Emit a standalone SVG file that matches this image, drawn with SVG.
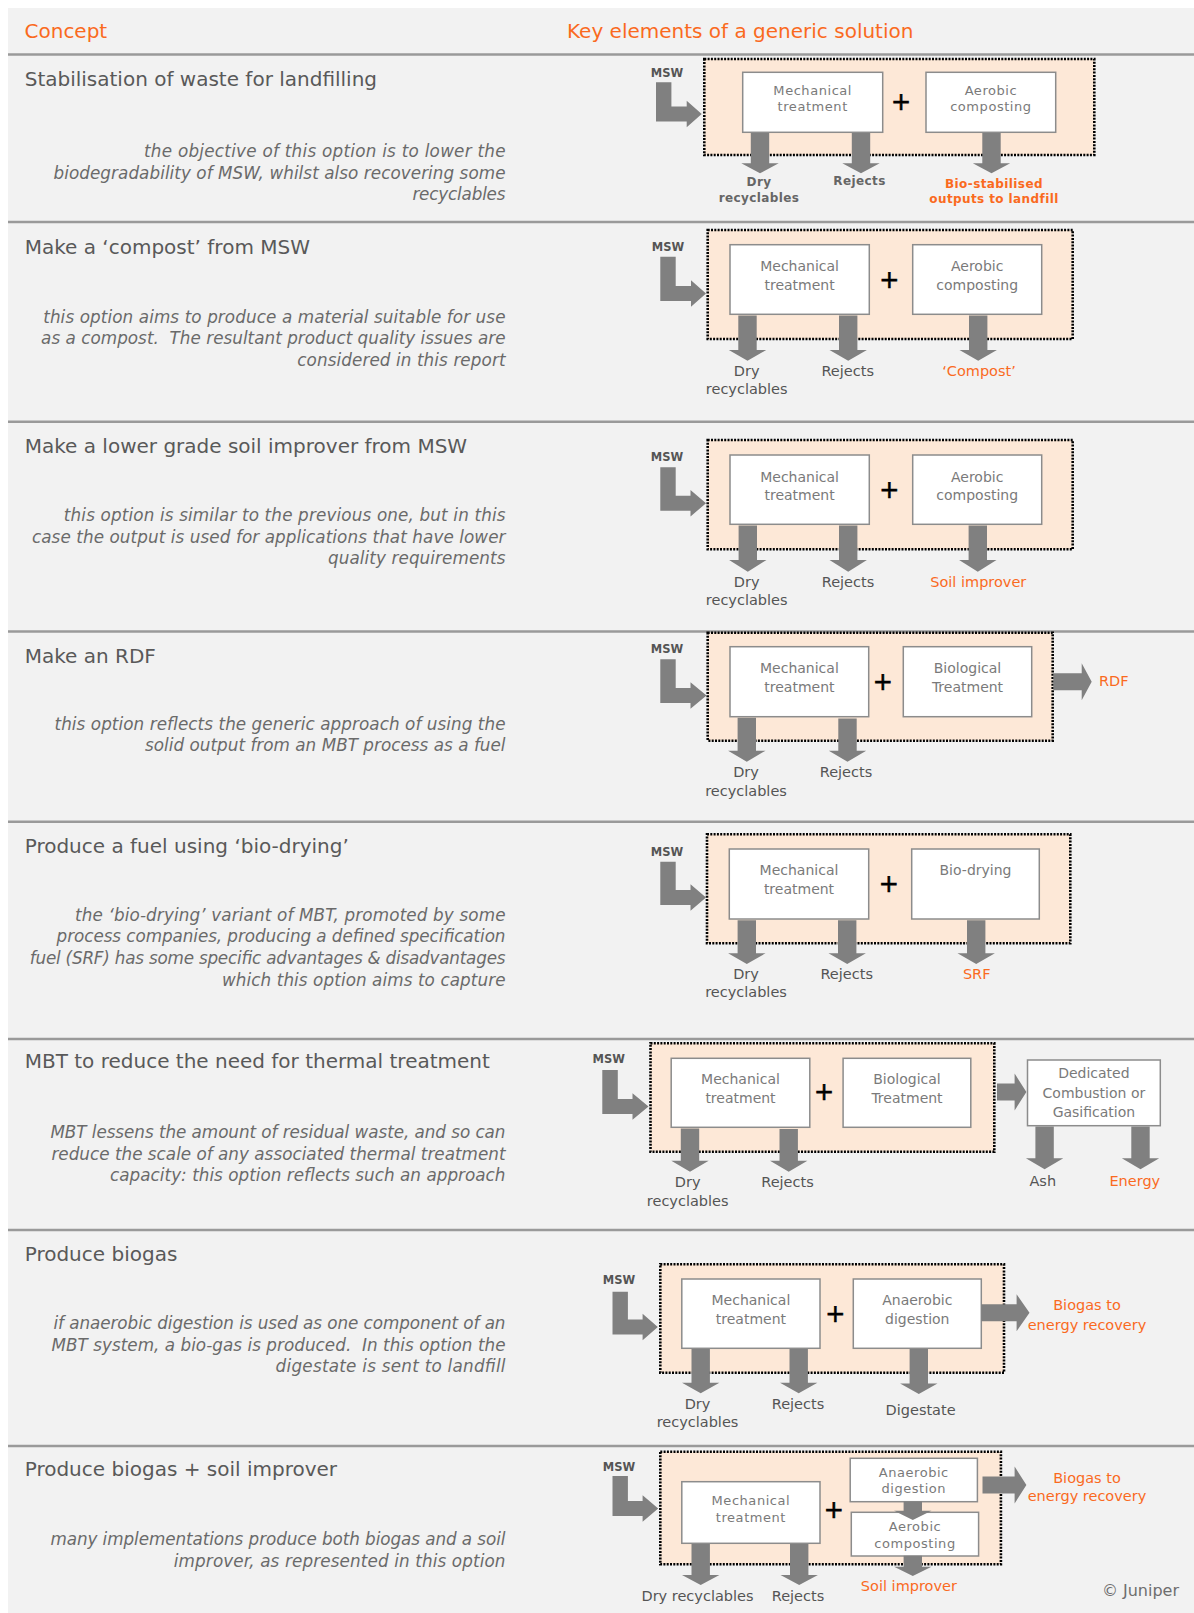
<svg xmlns="http://www.w3.org/2000/svg" width="1194" height="1613" viewBox="0 0 1194 1613">
  <style>
    text { font-family: "DejaVu Sans", "Liberation Sans", sans-serif; }
    .panel { fill: #f2f2f2; }
    .sep { stroke: #9a9a9a; stroke-width: 2.5; fill: none; }
    .hdr { font-size: 20px; fill: #fa6a1e; }
    .title { font-size: 20px; fill: #595959; }
    .desc { font-size: 16.8px; font-style: italic; fill: #6a6a6a; text-anchor: end; white-space: pre; }
    .grp { fill: #fde8d7; stroke: #000; stroke-width: 2.6; stroke-dasharray: 2 1.3; }
    .box { fill: #fff; stroke: #8c8c8c; stroke-width: 1.5; }
    .bt { font-size: 14px; fill: #7a7a7a; text-anchor: middle; }
    .bts { font-size: 13px; fill: #7a7a7a; text-anchor: middle; letter-spacing: 0.55px; }
    .plus { font-size: 24px; fill: #000; stroke: #000; stroke-width: 0.6; text-anchor: middle; }
    .msw { font-size: 11.5px; font-weight: bold; fill: #555; }
    .out { font-size: 14.5px; fill: #555; text-anchor: middle; }
    .outs { font-size: 12px; font-weight: bold; fill: #666; text-anchor: middle; letter-spacing: 0.4px; }
    .org { fill: #fa6a1e; }
    .arr { fill: #808080; }
    .copy { font-size: 16px; fill: #6e6e6e; text-anchor: end; }
  </style>

  <!-- background panel and table rules -->
  <rect class="panel" x="8" y="8" width="1186" height="1605"/>
  <g id="rules">
    <line class="sep" x1="8" y1="54.5" x2="1194" y2="54.5"/>
    <line class="sep" x1="8" y1="222" x2="1194" y2="222"/>
    <line class="sep" x1="8" y1="421.7" x2="1194" y2="421.7"/>
    <line class="sep" x1="8" y1="631.5" x2="1194" y2="631.5"/>
    <line class="sep" x1="8" y1="821.7" x2="1194" y2="821.7"/>
    <line class="sep" x1="8" y1="1039" x2="1194" y2="1039"/>
    <line class="sep" x1="8" y1="1230" x2="1194" y2="1230"/>
    <line class="sep" x1="8" y1="1446" x2="1194" y2="1446"/>
  </g>

  <!-- column headings -->
  <g id="headings">
    <text class="hdr" x="24.5" y="37.5">Concept</text>
    <text class="hdr" x="567" y="37.5">Key elements of a generic solution</text>
  </g>

  <!-- concept descriptions -->
  <g id="concepts">
    <text class="title" x="24.7" y="86">Stabilisation of waste for landfilling</text>
    <text class="desc" x="505.5" y="157" textLength="361.5" lengthAdjust="spacing">the objective of this option is to lower the</text>
    <text class="desc" x="505.5" y="178.5" textLength="452" lengthAdjust="spacing">biodegradability of MSW, whilst also recovering some</text>
    <text class="desc" x="505.5" y="200" textLength="93.1" lengthAdjust="spacing">recyclables</text>

    <text class="title" x="24.7" y="253.5">Make a ‘compost’ from MSW</text>
    <text class="desc" x="505.5" y="322.5" textLength="462.3" lengthAdjust="spacing">this option aims to produce a material suitable for use</text>
    <text class="desc" x="505.5" y="344" textLength="464.4" lengthAdjust="spacing">as a compost.  The resultant product quality issues are</text>
    <text class="desc" x="505.5" y="365.5" textLength="208.3" lengthAdjust="spacing">considered in this report</text>

    <text class="title" x="24.7" y="452.8">Make a lower grade soil improver from MSW</text>
    <text class="desc" x="505.5" y="521" textLength="441.7" lengthAdjust="spacing">this option is similar to the previous one, but in this</text>
    <text class="desc" x="505.5" y="542.5" textLength="473.6" lengthAdjust="spacing">case the output is used for applications that have lower</text>
    <text class="desc" x="505.5" y="564" textLength="177.5" lengthAdjust="spacing">quality requirements</text>

    <text class="title" x="24.7" y="662.6">Make an RDF</text>
    <text class="desc" x="505.5" y="729.5" textLength="451" lengthAdjust="spacing">this option reflects the generic approach of using the</text>
    <text class="desc" x="505.5" y="751" textLength="360.5" lengthAdjust="spacing">solid output from an MBT process as a fuel</text>

    <text class="title" x="24.7" y="852.8">Produce a fuel using ‘bio-drying’</text>
    <text class="desc" x="505.5" y="920.8" textLength="430.5" lengthAdjust="spacing">the ‘bio-drying’ variant of MBT, promoted by some</text>
    <text class="desc" x="505.5" y="942.4" textLength="448.9" lengthAdjust="spacing">process companies, producing a defined specification</text>
    <text class="desc" x="505.5" y="964" textLength="475.7" lengthAdjust="spacing">fuel (SRF) has some specific advantages &amp; disadvantages</text>
    <text class="desc" x="505.5" y="985.6" textLength="283.5" lengthAdjust="spacing">which this option aims to capture</text>

    <text class="title" x="24.7" y="1068.3">MBT to reduce the need for thermal treatment</text>
    <text class="desc" x="505.5" y="1138" textLength="455.1" lengthAdjust="spacing">MBT lessens the amount of residual waste, and so can</text>
    <text class="desc" x="505.5" y="1159.5" textLength="454.1" lengthAdjust="spacing">reduce the scale of any associated thermal treatment</text>
    <text class="desc" x="505.5" y="1181" textLength="395.5" lengthAdjust="spacing">capacity: this option reflects such an approach</text>

    <text class="title" x="24.7" y="1261.1">Produce biogas</text>
    <text class="desc" x="505.5" y="1329" textLength="452" lengthAdjust="spacing">if anaerobic digestion is used as one component of an</text>
    <text class="desc" x="505.5" y="1350.7" textLength="454.1" lengthAdjust="spacing">MBT system, a bio-gas is produced.  In this option the</text>
    <text class="desc" x="505.5" y="1372.3" textLength="229.9" lengthAdjust="spacing">digestate is sent to landfill</text>

    <text class="title" x="24.7" y="1476.1">Produce biogas + soil improver</text>
    <text class="desc" x="505.5" y="1545" textLength="455.1" lengthAdjust="spacing">many implementations produce both biogas and a soil</text>
    <text class="desc" x="505.5" y="1566.6" textLength="331.7" lengthAdjust="spacing">improver, as represented in this option</text>
  </g>

  <!-- MBT containers (dotted outline) -->
  <g id="containers">
    <rect id="mbt1" class="grp" x="704.3" y="59" width="390" height="96"/>
    <rect id="mbt2" class="grp" x="707.7" y="230" width="365" height="109"/>
    <rect id="mbt3" class="grp" x="707.7" y="440" width="365" height="109.3"/>
    <rect id="mbt4" class="grp" x="707.7" y="632.7" width="345" height="108"/>
    <rect id="mbt5" class="grp" x="707" y="834.3" width="363.3" height="109"/>
    <rect id="mbt6" class="grp" x="650.5" y="1043.3" width="343.8" height="108.4"/>
    <rect id="mbt7" class="grp" x="660.3" y="1264.3" width="343.7" height="108.4"/>
    <rect id="mbt8" class="grp" x="660.3" y="1451.7" width="340.6" height="112.6"/>
  </g>

  <!-- process boxes -->
  <g id="s1-mech">
    <rect class="box" x="742.7" y="72.3" width="140" height="60"/>
    <text class="bts" x="812.7" y="95">Mechanical</text>
    <text class="bts" x="812.7" y="110.7">treatment</text>
  </g>
  <g id="s1-aerobic">
    <rect class="box" x="926" y="72.3" width="129.7" height="60"/>
    <text class="bts" x="990.9" y="95">Aerobic</text>
    <text class="bts" x="990.9" y="110.7">composting</text>
  </g>
  <text class="plus" x="901" y="109.5">+</text>

  <g id="s2-mech">
    <rect class="box" x="730" y="244.7" width="139.3" height="69.6"/>
    <text class="bt" x="799.6" y="271">Mechanical</text>
    <text class="bt" x="799.6" y="289.5">treatment</text>
  </g>
  <g id="s2-aerobic">
    <rect class="box" x="912.7" y="244.7" width="129" height="69.6"/>
    <text class="bt" x="977.2" y="271">Aerobic</text>
    <text class="bt" x="977.2" y="289.5">composting</text>
  </g>
  <text class="plus" x="889.3" y="287.8">+</text>

  <g id="s3-mech">
    <rect class="box" x="730" y="455" width="139.3" height="69.3"/>
    <text class="bt" x="799.6" y="481.5">Mechanical</text>
    <text class="bt" x="799.6" y="500">treatment</text>
  </g>
  <g id="s3-aerobic">
    <rect class="box" x="912.7" y="455" width="129" height="69.3"/>
    <text class="bt" x="977.2" y="481.5">Aerobic</text>
    <text class="bt" x="977.2" y="500">composting</text>
  </g>
  <text class="plus" x="889.3" y="497.5">+</text>

  <g id="s4-mech">
    <rect class="box" x="730" y="646.7" width="138.7" height="70"/>
    <text class="bt" x="799.4" y="673.3">Mechanical</text>
    <text class="bt" x="799.4" y="692.3">treatment</text>
  </g>
  <g id="s4-bio">
    <rect class="box" x="903.3" y="646.7" width="128.4" height="70"/>
    <text class="bt" x="967.5" y="673.3">Biological</text>
    <text class="bt" x="967.5" y="692.3">Treatment</text>
  </g>
  <text class="plus" x="882.7" y="689.5">+</text>

  <g id="s5-mech">
    <rect class="box" x="729.3" y="849" width="139.4" height="70"/>
    <text class="bt" x="799" y="875">Mechanical</text>
    <text class="bt" x="799" y="894">treatment</text>
  </g>
  <g id="s5-biodry">
    <rect class="box" x="911.7" y="849" width="127.6" height="70"/>
    <text class="bt" x="975.5" y="875">Bio-drying</text>
  </g>
  <text class="plus" x="888.7" y="891.8">+</text>

  <g id="s6-mech">
    <rect class="box" x="671.2" y="1058.3" width="138.6" height="69"/>
    <text class="bt" x="740.5" y="1084">Mechanical</text>
    <text class="bt" x="740.5" y="1103.3">treatment</text>
  </g>
  <g id="s6-bio">
    <rect class="box" x="843.1" y="1058.3" width="127.7" height="69"/>
    <text class="bt" x="907" y="1084">Biological</text>
    <text class="bt" x="907" y="1103.3">Treatment</text>
  </g>
  <text class="plus" x="824" y="1100.2">+</text>
  <g id="s6-thermal">
    <rect class="box" x="1027.5" y="1060" width="132.8" height="65.7"/>
    <text class="bt" x="1093.9" y="1078.3">Dedicated</text>
    <text class="bt" x="1093.9" y="1097.5">Combustion or</text>
    <text class="bt" x="1093.9" y="1117.3">Gasification</text>
  </g>

  <g id="s7-mech">
    <rect class="box" x="681.8" y="1279" width="138.2" height="69.3"/>
    <text class="bt" x="750.9" y="1305">Mechanical</text>
    <text class="bt" x="750.9" y="1324">treatment</text>
  </g>
  <g id="s7-ad">
    <rect class="box" x="853.3" y="1279" width="128" height="69.3"/>
    <text class="bt" x="917.3" y="1305">Anaerobic</text>
    <text class="bt" x="917.3" y="1324">digestion</text>
  </g>
  <text class="plus" x="835.3" y="1321.8">+</text>

  <g id="s8-mech">
    <rect class="box" x="681.8" y="1481.7" width="138.2" height="61.6"/>
    <text class="bts" x="750.9" y="1505">Mechanical</text>
    <text class="bts" x="750.9" y="1521.7">treatment</text>
  </g>
  <g id="s8-ad">
    <rect class="box" x="850.2" y="1458.3" width="127.2" height="43.4"/>
    <text class="bts" x="913.8" y="1476.7">Anaerobic</text>
    <text class="bts" x="913.8" y="1493.3">digestion</text>
  </g>
  <g id="s8-aerobic">
    <rect class="box" x="851.3" y="1512.3" width="127.3" height="43.7"/>
    <text class="bts" x="915" y="1530.7">Aerobic</text>
    <text class="bts" x="915" y="1548.3">composting</text>
  </g>
  <text class="plus" x="833.7" y="1517.5">+</text>

  <!-- flow arrows -->
  <g id="connectors" class="arr">
    <!-- MSW inputs -->
    <path d="M656,82.3 H671.4 V106.5 H686.7 V100.7 L701.7,114 L686.7,127.3 V121.5 H656 Z"/>
    <path d="M660.3,256.7 H675.7 V286 H691 V280.2 L706,293.5 L691,306.8 V301 H660.3 Z"/>
    <path d="M660.3,467.3 H675.7 V495.7 H690.5 V489.9 L706,503.2 L690.5,516.5 V510.7 H660.3 Z"/>
    <path d="M660.3,659.3 H675.7 V688 H690.5 V682.2 L706.5,695.5 L690.5,708.8 V703 H660.3 Z"/>
    <path d="M660.3,861.7 H675.7 V890 H690.5 V884.2 L706,897.5 L690.5,910.8 V905 H660.3 Z"/>
    <path d="M602.3,1070 H617.8 V1099 H632.5 V1093.2 L648.5,1106.5 L632.5,1119.8 V1114 H602.3 Z"/>
    <path d="M612.5,1291.7 H627.9 V1319.5 H642.6 V1313.7 L657.8,1327 L642.6,1340.3 V1334.5 H612.5 Z"/>
    <path d="M612.5,1476 H627.9 V1501 H642.6 V1495.2 L658.2,1508.5 L642.6,1521.8 V1516 H612.5 Z"/>

    <!-- outputs, section 1 -->
    <path d="M750.8,133 H769.2 V163.3 H778.7 L760,173.3 L741.3,163.3 H750.8 Z"/>
    <path d="M851.8,133 H870.2 V163.3 H879.7 L861,173.3 L842.3,163.3 H851.8 Z"/>
    <path d="M982.3,133 H1000.7 V163.3 H1010.2 L991.5,173.3 L972.8,163.3 H982.3 Z"/>
    <!-- section 2 -->
    <path d="M738.3,315.5 H756.7 V350 H766.2 L747.5,360.7 L728.8,350 H738.3 Z"/>
    <path d="M839,315.5 H857.4 V350 H866.9 L848.2,360.7 L829.5,350 H839 Z"/>
    <path d="M969,315.5 H987.4 V350 H996.9 L978.2,360.7 L959.5,350 H969 Z"/>
    <!-- section 3 -->
    <path d="M738.6,525.5 H757 V560 H766.5 L747.8,571.7 L729.1,560 H738.6 Z"/>
    <path d="M839,525.5 H857.4 V560 H866.9 L848.2,571.7 L829.5,560 H839 Z"/>
    <path d="M968.6,525.5 H987 V560 H996.5 L977.8,571.7 L959.1,560 H968.6 Z"/>
    <!-- section 4 -->
    <path d="M737.6,717.8 H756 V750.7 H765.5 L746.8,761.7 L728.1,750.7 H737.6 Z"/>
    <path d="M838.3,718.5 H856.7 V750.7 H866.2 L847.5,761.7 L828.8,750.7 H838.3 Z"/>
    <path d="M1053.3,673.2 H1081.7 V663.2 L1091.7,681.7 L1081.7,700.2 V690.2 H1053.3 Z"/>
    <!-- section 5 -->
    <path d="M737.6,920.3 H756 V953.3 H765.5 L746.8,964 L728.1,953.3 H737.6 Z"/>
    <path d="M838,920.3 H856.4 V953.3 H865.9 L847.2,964 L828.5,953.3 H838 Z"/>
    <path d="M967,920.3 H985.4 V953.3 H994.9 L976.2,964 L957.5,953.3 H967 Z"/>
    <!-- section 6 -->
    <path d="M680.8,1128.5 H699.2 V1160.7 H708.7 L690,1171.7 L671.3,1160.7 H680.8 Z"/>
    <path d="M779.5,1129 H797.9 V1160.7 H807.4 L788.7,1171.7 L770,1160.7 H779.5 Z"/>
    <path d="M997,1083.5 H1014.6 V1073.5 L1026.4,1092 L1014.6,1110.5 V1100.5 H997 Z"/>
    <path d="M1035.4,1126.5 H1053.8 V1158.3 H1063.3 L1044.6,1169.3 L1025.9,1158.3 H1035.4 Z"/>
    <path d="M1131.3,1126.5 H1149.7 V1158.3 H1159.2 L1140.5,1169.3 L1121.8,1158.3 H1131.3 Z"/>
    <!-- section 7 -->
    <path d="M691.5,1349 H709.9 V1382.7 H719.4 L700.7,1393.3 L682,1382.7 H691.5 Z"/>
    <path d="M789.5,1349 H807.9 V1382.7 H817.4 L798.7,1393.3 L780,1382.7 H789.5 Z"/>
    <path d="M909.6,1349 H928 V1383.5 H937.5 L918.8,1394 L900.1,1383.5 H909.6 Z"/>
    <path d="M981.3,1304.2 H1016.6 V1294.2 L1029.5,1312.7 L1016.6,1331.2 V1321.2 H981.3 Z"/>
    <!-- section 8 -->
    <path d="M691.5,1544 H709.9 V1575 H719.4 L700.7,1585 L682,1575 H691.5 Z"/>
    <path d="M790,1544 H808.4 V1575 H817.9 L799.2,1585 L780.5,1575 H790 Z"/>
    <path d="M903.6,1501.5 H922 V1510.7 H931.5 L912.8,1520 L894.1,1510.7 H903.6 Z"/>
    <path d="M903.6,1555.8 H922 V1566.7 H931.5 L912.8,1576 L894.1,1566.7 H903.6 Z"/>
    <path d="M982.5,1476.5 H1014.6 V1466.5 L1026.4,1485 L1014.6,1503.5 V1493.5 H982.5 Z"/>
  </g>

  <!-- input and output labels -->
  <g id="labels">
    <text class="msw" x="650.7" y="76.7">MSW</text>
    <text class="msw" x="651.7" y="250.7">MSW</text>
    <text class="msw" x="650.7" y="461">MSW</text>
    <text class="msw" x="650.7" y="652.7">MSW</text>
    <text class="msw" x="650.7" y="856">MSW</text>
    <text class="msw" x="592.5" y="1063.3">MSW</text>
    <text class="msw" x="602.7" y="1284.3">MSW</text>
    <text class="msw" x="602.7" y="1471">MSW</text>

    <text class="outs" x="759" y="185.5">Dry</text>
    <text class="outs" x="759" y="202.3">recyclables</text>
    <text class="outs" x="859.5" y="185">Rejects</text>
    <text class="outs org" x="994" y="187.7">Bio-stabilised</text>
    <text class="outs org" x="994" y="203.3">outputs to landfill</text>

    <text class="out" x="746.7" y="376">Dry</text>
    <text class="out" x="746.7" y="394">recyclables</text>
    <text class="out" x="847.7" y="376">Rejects</text>
    <text class="out org" x="979" y="376">‘Compost’</text>

    <text class="out" x="746.7" y="586.5">Dry</text>
    <text class="out" x="746.7" y="604.5">recyclables</text>
    <text class="out" x="848" y="586.5">Rejects</text>
    <text class="out org" x="978.3" y="586.5">Soil improver</text>

    <text class="out" x="746" y="777.3">Dry</text>
    <text class="out" x="746" y="795.7">recyclables</text>
    <text class="out" x="846" y="777.3">Rejects</text>
    <text class="out org" x="1099" y="685.7" style="text-anchor:start">RDF</text>

    <text class="out" x="746" y="979.3">Dry</text>
    <text class="out" x="746" y="997">recyclables</text>
    <text class="out" x="846.7" y="979.3">Rejects</text>
    <text class="out org" x="976.7" y="979">SRF</text>

    <text class="out" x="687.7" y="1187.3">Dry</text>
    <text class="out" x="687.7" y="1205.8">recyclables</text>
    <text class="out" x="787.5" y="1187.3">Rejects</text>
    <text class="out" x="1042.8" y="1185.5">Ash</text>
    <text class="out org" x="1134.8" y="1185.5">Energy</text>

    <text class="out" x="697.5" y="1409">Dry</text>
    <text class="out" x="697.5" y="1427.3">recyclables</text>
    <text class="out" x="798" y="1408.5">Rejects</text>
    <text class="out" x="920.6" y="1415">Digestate</text>
    <text class="out org" x="1087" y="1310">Biogas to</text>
    <text class="out org" x="1087" y="1330">energy recovery</text>

    <text class="out" x="697.5" y="1601">Dry recyclables</text>
    <text class="out" x="798" y="1601">Rejects</text>
    <text class="out org" x="908.9" y="1591">Soil improver</text>
    <text class="out org" x="1087" y="1482.7">Biogas to</text>
    <text class="out org" x="1087" y="1501">energy recovery</text>
  </g>

  <text class="copy" x="1179" y="1595.7">© Juniper</text>
</svg>
